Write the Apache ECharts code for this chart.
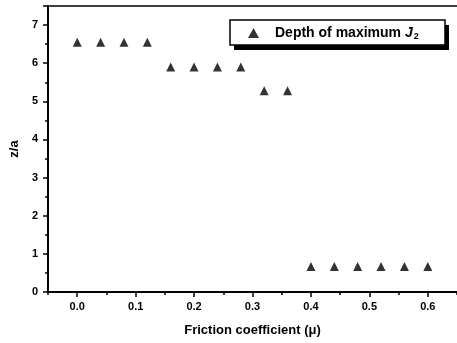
<!DOCTYPE html>
<html>
<head>
<meta charset="utf-8">
<script src="https://cdn.jsdelivr.net/npm/echarts@6/dist/echarts.min.js"></script>
<style>
  html, body { margin: 0; padding: 0; background: #fff; }
  #chart { width: 457px; height: 343px; }
</style>
</head>
<body>
<div id="chart"></div>
<script>
// friction coefficient vs depth of maximum J2
const frictionValues = [0, 0.04, 0.08, 0.12, 0.16, 0.2, 0.24, 0.28, 0.32, 0.36, 0.4, 0.44, 0.48, 0.52, 0.56, 0.6]
const depthValues = [6.55, 6.55, 6.55, 6.55, 5.9, 5.9, 5.9, 5.9, 5.28, 5.28, 0.67, 0.67, 0.67, 0.67, 0.67, 0.67]
const xMajorTicks = [0, 0.1, 0.2, 0.3, 0.4, 0.5, 0.6]
const seriesName = 'Depth of maximum J2'

const FONT = 'Liberation Sans, Arial, sans-serif'

const chart = echarts.init(document.getElementById('chart'))

const points = frictionValues.map((x, i) => [x, depthValues[i]])

const option = {
  backgroundColor: '#fff',
  animation: false,
  grid: {
    left: 46,
    right: 0,
    top: 6,
    bottom: 51,
  },
  // legend frame with its drop shadow
  graphic: [
    { type: 'rect', z: 3, shape: { x: 234, y: 25, width: 215, height: 25 }, style: { fill: '#000' } },
    { type: 'rect', z: 3, shape: { x: 230, y: 20, width: 215, height: 25 }, style: { fill: '#fff', stroke: '#000', lineWidth: 1.5 } },
  ],
  legend: {
    data: [seriesName],
    left: 230,
    top: 20,
    padding: [6, 10, 5, 18],
    itemGap: 0,
    itemWidth: 11,
    itemHeight: 10,
    borderWidth: 0,
    formatter: () => 'Depth of maximum {j|J}{s|2}',
    textStyle: {
      color: '#000',
      fontSize: 14,
      fontWeight: 'bold',
      fontFamily: FONT,
      padding: [0, 0, 0, 11],
      rich: {
        j: { fontSize: 14, fontWeight: 'bold', fontStyle: 'italic', fontFamily: FONT, color: '#000' },
        s: { fontSize: 9, fontWeight: 'bold', fontFamily: FONT, color: '#000', verticalAlign: 'bottom', padding: [7, 0, 0, 1] },
      },
    },
  },
  xAxis: [
    {
      type: 'value',
      min: -0.05,
      max: 0.65,
      interval: 0.05,
      name: 'Friction coefficient (μ)',
      nameLocation: 'middle',
      nameGap: 32,
      nameTextStyle: { color: '#000', fontSize: 13, fontWeight: 'bold', fontFamily: FONT },
      splitLine: { show: false },
      axisLine: { onZero: false, lineStyle: { color: '#000', width: 2 } },
      axisTick: { length: 3, lineStyle: { color: '#000', width: 1.5 } },
      axisLabel: {
        customValues: xMajorTicks,
        formatter: (v) => v.toFixed(1),
        color: '#000',
        fontSize: 11,
        fontWeight: 'bold',
        fontFamily: FONT,
        margin: 9,
      },
    },
    {
      type: 'value',
      position: 'bottom',
      min: -0.05,
      max: 0.65,
      interval: 0.05,
      splitLine: { show: false },
      axisLine: { show: false, onZero: false },
      axisLabel: { show: false },
      axisTick: {
        customValues: xMajorTicks,
        length: 5,
        lineStyle: { color: '#000', width: 1.5 },
      },
    },
    {
      // top frame line
      type: 'value',
      position: 'top',
      min: -0.05,
      max: 0.65,
      splitLine: { show: false },
      axisLine: { show: true, onZero: false, lineStyle: { color: '#000', width: 1.5 } },
      axisLabel: { show: false },
      axisTick: { show: false },
    },
  ],
  yAxis: {
    type: 'value',
    min: 0,
    max: 7.5,
    interval: 1,
    name: 'z/a',
    nameLocation: 'middle',
    nameGap: 26,
    nameTextStyle: { color: '#000', fontSize: 13, fontWeight: 'bold', fontFamily: FONT },
    splitLine: { show: false },
    axisLine: { onZero: false, lineStyle: { color: '#000', width: 2 } },
    axisTick: { length: 5, lineStyle: { color: '#000', width: 1.5 } },
    minorTick: { show: true, splitNumber: 2, length: 3, lineStyle: { color: '#000', width: 1.5 } },
    axisLabel: {
      showMaxLabel: false,
      color: '#000',
      fontSize: 11,
      fontWeight: 'bold',
      fontFamily: FONT,
      margin: 10,
    },
  },
  series: [
    {
      name: seriesName,
      type: 'scatter',
      symbol: 'triangle',
      symbolSize: 9,
      itemStyle: { color: '#000' },
      data: points,
    },
  ],
}

chart.setOption(option)
</script>
</body>
</html>
